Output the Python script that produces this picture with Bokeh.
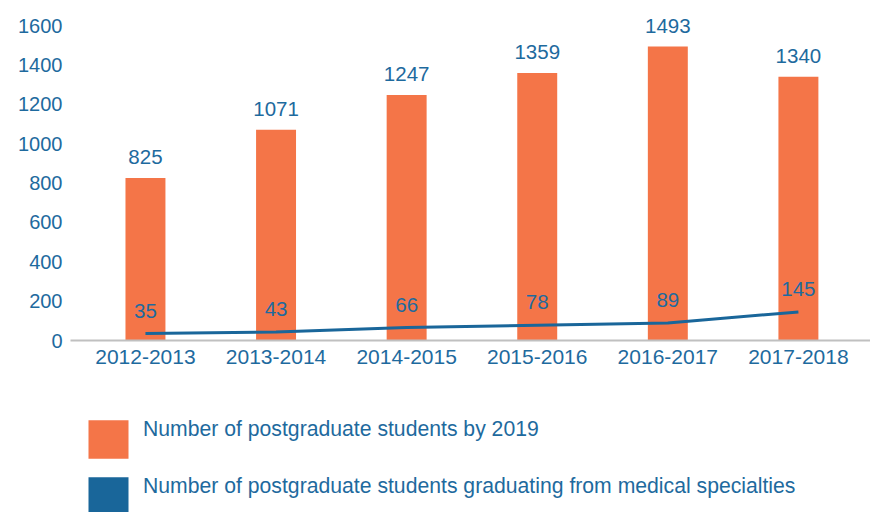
from bokeh.plotting import figure
from bokeh.layouts import column
from bokeh.models import (ColumnDataSource, Range1d, FixedTicker, Legend, LegendItem)
from bokeh.core.properties import value
from bokeh.embed import file_html
from bokeh.resources import INLINE

categories = ["2012-2013", "2013-2014", "2014-2015", "2015-2016", "2016-2017", "2017-2018"]
postgraduates = [825, 1071, 1247, 1359, 1493, 1340]
medical_graduates = [35, 43, 66, 78, 89, 145]
y_ticks = [0, 200, 400, 600, 800, 1000, 1200, 1400, 1600]
legend_labels = ["Number of postgraduate students by 2019",
                 "Number of postgraduate students graduating from medical specialties"]

ORANGE = "#F47548"
BLUE = "#19669A"
TEXT = "#1E6A9E"
FONT = "Liberation Sans"

xs = list(range(len(categories)))
src = ColumnDataSource(dict(
    x=xs, cat=categories, bars=postgraduates, line=medical_graduates,
    bar_lbl=[str(v) for v in postgraduates],
    line_lbl=[str(v) for v in medical_graduates],
))

p = figure(width=870, height=380, output_backend="svg", toolbar_location=None,
           x_range=Range1d(-0.574, 5.552), y_range=Range1d(0, 1727),
           min_border_left=70, min_border_right=0, min_border_top=0,
           min_border_bottom=40)
p.outline_line_color = None
p.grid.visible = False

p.vbar(x="x", top="bars", width=0.306, source=src, fill_color=ORANGE, line_color=None)
p.line(x="x", y="line", source=src, line_color=BLUE, line_width=3)

p.text(x="x", y="bars", text="bar_lbl", source=src, text_align="center",
       text_baseline="bottom", y_offset=-14, text_color=TEXT,
       text_font=value(FONT), text_font_size="20.5px")
p.text(x="x", y="line", text="line_lbl", source=src, text_align="center",
       text_baseline="bottom", y_offset=-16, text_color=TEXT,
       text_font=value(FONT), text_font_size="20.5px")

yaxis = p.yaxis[0]
yaxis.ticker = FixedTicker(ticks=y_ticks)
yaxis.axis_line_color = None
yaxis.major_tick_line_color = None
yaxis.minor_tick_line_color = None
yaxis.major_tick_out = 0
yaxis.major_tick_in = 0
yaxis.major_label_text_font = FONT
yaxis.major_label_text_font_size = "20px"
yaxis.major_label_text_color = TEXT
yaxis.major_label_standoff = 8

xaxis = p.xaxis[0]
xaxis.ticker = FixedTicker(ticks=xs)
xaxis.major_label_overrides = {i: c for i, c in zip(xs, categories)}
xaxis.axis_line_color = "#C0C0C0"
xaxis.axis_line_width = 2
xaxis.major_tick_line_color = None
xaxis.minor_tick_line_color = None
xaxis.major_tick_out = 0
xaxis.major_tick_in = 0
xaxis.major_label_text_font = FONT
xaxis.major_label_text_font_size = "21px"
xaxis.major_label_text_color = TEXT
xaxis.major_label_standoff = 9

# legend panel below the chart
lg = figure(width=870, height=132, output_backend="svg", toolbar_location=None,
            x_range=Range1d(0, 1), y_range=Range1d(0, 1),
            x_axis_location=None, y_axis_location=None,
            min_border_left=0, min_border_right=0, min_border_top=0,
            min_border_bottom=0)
lg.outline_line_color = None
lg.grid.visible = False
sw1 = lg.vbar(x="x", top="bars", width=0.1, source=src, fill_color=ORANGE,
              line_color=None, visible=False)
sw2 = lg.vbar(x="x", top="line", width=0.1, source=src, fill_color=BLUE,
              line_color=None, visible=False)
blank = lg.vbar(x="x", top="line", width=0.1, source=src, fill_alpha=0,
                line_alpha=0, visible=False)

common = dict(orientation="vertical", glyph_width=50, glyph_height=48,
              spacing=9, padding=0, margin=0, label_standoff=10,
              label_text_font=FONT, label_text_font_size="21.2px", label_text_color=TEXT,
              inactive_fill_alpha=0, border_line_color=None, background_fill_alpha=0)
# colour swatches
swatches = Legend(items=[LegendItem(label=" ", renderers=[sw1]),
                         LegendItem(label=" ", renderers=[sw2])],
                  location=(13, -8), **common)
# series names, set slightly above the swatch centres as in the original
names = Legend(items=[LegendItem(label=legend_labels[0], renderers=[blank]),
                      LegendItem(label=legend_labels[1], renderers=[blank])],
               location=(13, 2), **common)
lg.add_layout(swatches, "center")
lg.add_layout(names, "center")

layout = column(p, lg, spacing=0)
open("out.html", "w").write(file_html(layout, INLINE))
